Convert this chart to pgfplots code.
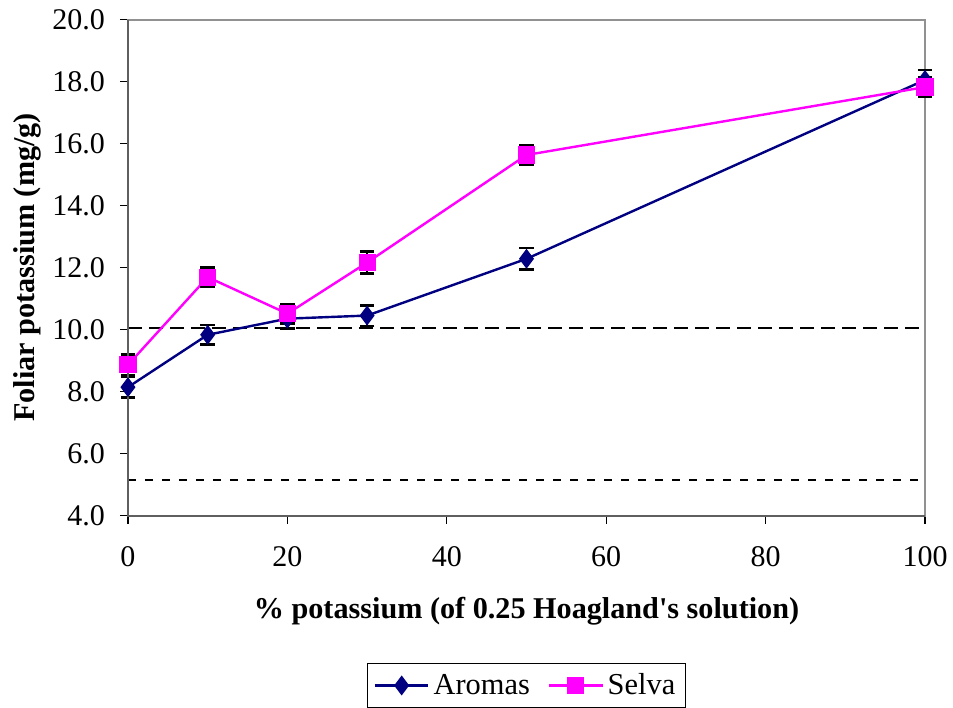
\documentclass[border=0pt]{standalone}
\usepackage{fontspec}
\setmainfont{Liberation Serif}
\usepackage{pgfplots}
\usepackage{pgfplotstable}
\pgfplotsset{compat=1.18}
\definecolor{aromas}{RGB}{0,0,128}
\definecolor{selva}{RGB}{255,0,255}
\definecolor{framegray}{RGB}{145,145,145}
\definecolor{framedark}{RGB}{95,95,95}

% Foliar K (mg/g) versus % K of 0.25 Hoagland's solution, with SE
\pgfplotstableread{
x   y      e
0   8.14   0.33
10  9.83   0.32
20  10.35  0.32
30  10.45  0.33
50  12.28  0.34
100 18.05  0.33
}\aromas
\pgfplotstableread{
x   y      e
0   8.86   0.34
10  11.69  0.31
20  10.51  0.32
30  12.16  0.35
50  15.63  0.32
100 17.82  0.32
}\selva

\begin{document}
\begin{tikzpicture}
\begin{axis}[
  name=ax,
  scale only axis,
  width=398.5pt, height=248pt,
  xmin=0, xmax=100, ymin=4, ymax=20,
  xtick={0,20,...,100},
  ytick={4,6,...,20},
  axis line style={framegray, line width=1pt},
  tick align=outside,
  xtick pos=bottom, ytick pos=left,
  major tick length=4pt,
  tick style={black, line width=0.6pt},
  /pgf/number format/assume math mode=true,
  yticklabel style={/pgf/number format/.cd, fixed, fixed zerofill, precision=1, /tikz/.cd,
    font=\fontsize{15}{18}\selectfont, xshift=-4pt},
  xticklabel style={font=\fontsize{15}{18}\selectfont, yshift=-8pt},
  xlabel={\textbf{\% potassium (of 0.25 Hoagland\textquotesingle s solution)}},
  ylabel={\textbf{Foliar potassium (mg/g)}},
  xlabel style={font=\fontsize{15.1}{18}\selectfont, at={(axis description cs:0.5,-0.1935)}, anchor=center},
  ylabel style={font=\fontsize{15.1}{18}\selectfont, at={(axis description cs:-0.1267,0.5)}, anchor=center},
  legend style={at={(axis description cs:0.5,-0.297)}, anchor=north,
    draw=black, line width=0.6pt, font=\fontsize{15.2}{18}\selectfont,
    legend columns=2, inner ysep=3pt,
    /tikz/every even column/.append style={column sep=7pt}},
  legend cell align=left,
  legend image code/.code={%
    \draw[mark repeat=2, mark phase=2] plot coordinates {(0cm,0cm) (0.47cm,0cm) (0.94cm,0cm)};},
  clip=false,
]
% reference levels
\addplot[black, line width=1.1pt, dash pattern=on 7pt off 3.5pt, forget plot]
  coordinates {(0,10.05) (100,10.05)};
\addplot[black, line width=1pt, dash pattern=on 4pt off 4.5pt, forget plot]
  coordinates {(0,5.13) (100,5.13)};

\addplot[aromas, line width=1.2pt, mark=diamond*, mark size=4pt,
  mark options={solid, fill=aromas},
  error bars/.cd, y dir=both, y explicit,
  error bar style={black, line width=0.9pt},
  error mark options={rotate=90, black, mark size=3.6pt, line width=1.2pt}]
  table[x=x, y=y, y error=e] {\aromas};
\addlegendentry{Aromas}

\addplot[selva, line width=1.2pt, mark=square*, mark size=3.7pt,
  mark options={solid, fill=selva},
  error bars/.cd, y dir=both, y explicit,
  error bar style={black, line width=0.9pt},
  error mark options={rotate=90, black, mark size=3.6pt, line width=1.2pt}]
  table[x=x, y=y, y error=e] {\selva};
\addlegendentry{Selva}

% darker left and bottom axis lines
\draw[framedark, line width=1pt] (rel axis cs:0,1) -- (rel axis cs:0,0) -- (rel axis cs:1,0);
\end{axis}
\pgfresetboundingbox
\path[use as bounding box] ([shift={(-64pt,-96.15pt)}]ax.south west)
  rectangle ([shift={(14pt,9.75pt)}]ax.north east);
\end{tikzpicture}
\end{document}
